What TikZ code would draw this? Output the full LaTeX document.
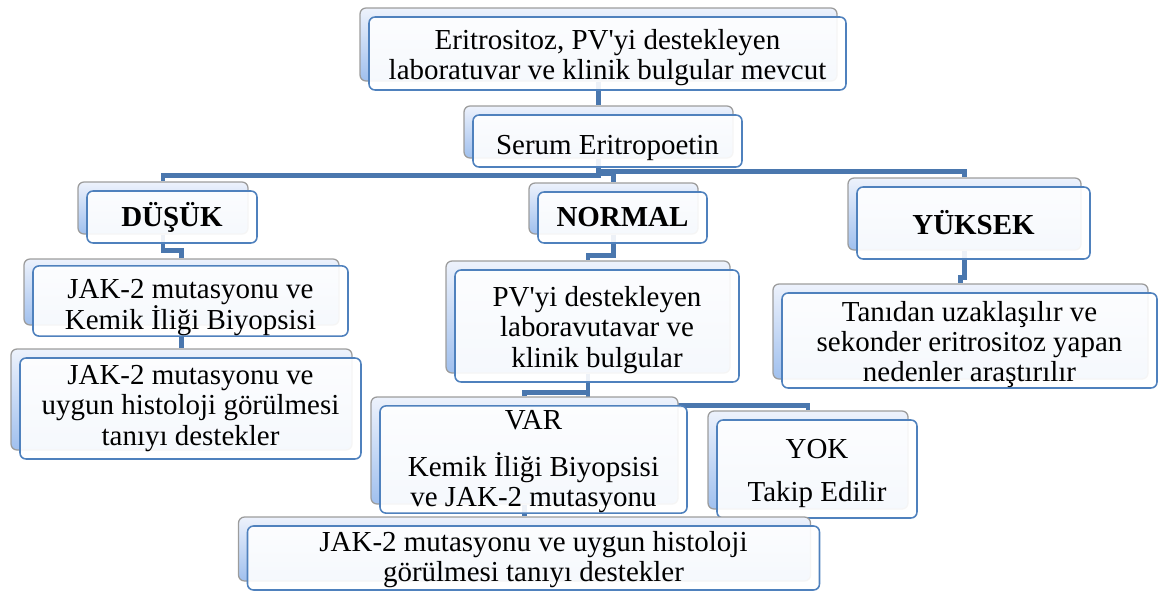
\documentclass[tikz,border=0pt]{standalone}
\usepackage{fontspec}
\setmainfont{Liberation Serif}
\usetikzlibrary{backgrounds}
\definecolor{linkblue}{HTML}{4A77AE}
\definecolor{cardblue}{HTML}{4F81BD}
\definecolor{cardgray}{HTML}{9C9C9C}
\definecolor{backtop}{HTML}{EDF2FC}
\definecolor{backbottom}{HTML}{A0C0EE}
\def\pxl{0.025cm}
% card: [strut], name, x, y (centre of the front card), width, height, text
\newcommand{\card}[7][20pt]{%
	\node[back card, minimum width=#5*\pxl, minimum height=#6*\pxl] (#2-b) at (#3-9,#4-9) {};
	\node[front card, minimum width=#5*\pxl, minimum height=#6*\pxl] (#2) at (#3,#4) {\rule{0pt}{#1}#7};
}

\begin{document}
\begin{tikzpicture}[x=\pxl, y=-\pxl]
	\tikzstyle{back card}=[draw=cardgray, line width=0.9pt, rounded corners=0.15cm, top color=backtop, bottom color=backbottom, inner sep=0pt]
	\tikzstyle{front card}=[draw=cardblue, line width=1.1pt, rounded corners=0.15cm, fill=white, fill opacity=0.9, text opacity=1, inner sep=0pt, align=center, font=\fontsize{20.6}{21.4}\selectfont]
	\tikzstyle{link}=[draw=linkblue, line width=3.5pt]

	\useasboundingbox (0,0) rectangle (1158,592);

	\card{top}{607.5}{53.5}{477}{73}{Eritrositoz, PV\textquotesingle yi destekleyen\\laboratuvar ve klinik bulgular mevcut}
	\card[24pt]{serum}{607.5}{141}{269}{52}{Serum Eritropoetin}

	\card[0pt]{dusuk}{172}{217}{170}{52}{\textbf{DÜŞÜK}}
	\card[0pt]{normal}{622.5}{217.5}{169}{51}{\textbf{NORMAL}}
	\card[0pt]{yuksek}{973.5}{223}{233}{72}{\textbf{YÜKSEK}}

	\card[23pt]{jakbiy}{190.5}{301}{315}{66}{JAK-2 mutasyonu ve\\Kemik İliği Biyopsisi}
	\card[0pt]{jakhist}{190.5}{408.5}{341}{101}{JAK-2 mutasyonu ve\\uygun histoloji görülmesi\\tanıyı destekler}

	\card{pv}{597}{326}{284}{112}{PV\textquotesingle yi destekleyen\\laboravutavar ve\\klinik bulgular}
	\card[17pt]{var}{533.5}{459.5}{307}{107}{VAR\\[12pt]Kemik İliği Biyopsisi\\ve JAK-2 mutasyonu}
	\card{yok}{817}{469}{200}{98}{YOK\\[9pt]Takip Edilir}
	\card[16pt]{son}{533.5}{558}{572}{64}{JAK-2 mutasyonu ve uygun histoloji\\görülmesi tanıyı destekler}

	\card{tani}{969.5}{340.5}{375}{95}{Tanıdan uzaklaşılır ve\\sekonder eritrositoz yapan\\nedenler araştırılır}

	% elbow links between the back cards
	\begin{scope}[on background layer]
		\draw[link] (top-b.south) -- (serum-b.north);
		\draw[link] (serum-b.south) -- ++(0,17) -| (dusuk-b.north);
		\draw[link] (serum-b.south) -- ++(0,15) -| (normal-b.north);
		\draw[link] (serum-b.south) -- ++(0,13) -| (yuksek-b.north);
		\draw[link] (dusuk-b.south) -- ++(0,16) -| (jakbiy-b.north);
		\draw[link] (jakbiy-b.south) -- (jakhist-b.north);
		\draw[link] (normal-b.south) -- ++(0,21) -| (pv-b.north);
		\draw[link] (pv-b.south) -- ++(0,19) -| (var-b.north);
		\draw[link] (pv-b.south) -- ++(0,32) -| (yok-b.north);
		\draw[link] (var-b.south) -- (son-b.north);
		\draw[link] (yuksek-b.south) -- ++(0,27) -| (tani-b.north);
	\end{scope}
\end{tikzpicture}
\end{document}
